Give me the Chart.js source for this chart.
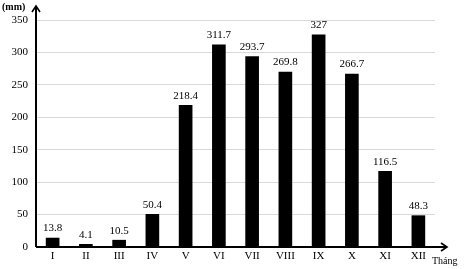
<!DOCTYPE html>
<html>
<head>
<meta charset="utf-8">
<script src="https://cdn.jsdelivr.net/npm/chart.js@4/dist/chart.umd.min.js"></script>
<style>
  html, body { margin: 0; padding: 0; background: #fff; }
  #wrap { width: 474px; height: 269px; }
</style>
</head>
<body>
<div id="wrap"><canvas id="chart" width="474" height="269"></canvas></div>
<script>
// Monthly rainfall (mm)
const months = ["I", "II", "III", "IV", "V", "VI", "VII", "VIII", "IX", "X", "XI", "XII"];
const rainfall = [13.8, 4.1, 10.5, 50.4, 218.4, 311.7, 293.7, 269.8, 327, 266.7, 116.5, 48.3];
const yTicks = [0, 50, 100, 150, 200, 250, 300, 350];

const FONT = "'Liberation Serif', 'Times New Roman', serif";

// arrows, axis titles and value labels
const extras = {
    id: "extras",
    afterDatasetsDraw(chart) {
        const ctx = chart.ctx;
        const area = chart.chartArea;
        const meta = chart.getDatasetMeta(0);

        ctx.save();
        ctx.fillStyle = "#000";
        ctx.font = "11px " + FONT;
        ctx.textAlign = "center";
        ctx.textBaseline = "bottom";
        meta.data.forEach((bar, i) => {
            ctx.fillText(String(rainfall[i]), bar.x, bar.y - 4);
        });

        // axes with arrows
        ctx.strokeStyle = "#000";
        ctx.lineWidth = 2;
        const x0 = area.left;
        const y0 = area.bottom;
        ctx.beginPath();
        ctx.moveTo(x0, y0);
        ctx.lineTo(x0, 7);
        ctx.moveTo(x0, y0);
        ctx.lineTo(446, y0);
        ctx.stroke();

        ctx.lineWidth = 1.6;
        ctx.beginPath();
        ctx.moveTo(x0 - 4, 12);
        ctx.lineTo(x0, 6);
        ctx.lineTo(x0 + 4, 12);
        ctx.moveTo(441, y0 - 4);
        ctx.lineTo(447, y0);
        ctx.lineTo(441, y0 + 4);
        ctx.stroke();

        ctx.font = "bold 10px " + FONT;
        ctx.textAlign = "left";
        ctx.textBaseline = "middle";
        ctx.fillText("(mm)", 2, 7);

        ctx.font = "10px " + FONT;
        ctx.fillText("Tháng", 432, 261);
        ctx.restore();
    }
};

new Chart(document.getElementById("chart"), {
    type: "bar",
    data: {
        labels: months,
        datasets: [{
            data: rainfall,
            backgroundColor: "#000",
            barThickness: 13
        }]
    },
    options: {
        responsive: false,
        animation: false,
        layout: { padding: { left: 0, right: 39, top: 20, bottom: 0 } },
        plugins: {
            legend: { display: false },
            tooltip: { enabled: false }
        },
        scales: {
            x: {
                grid: { display: false, drawTicks: false },
                border: { display: false },
                ticks: {
                    color: "#000",
                    font: { family: FONT, size: 11 },
                    padding: 3
                },
                afterFit(scale) { scale.height = 22; }
            },
            y: {
                min: 0,
                max: 350,
                afterBuildTicks(scale) {
                    scale.ticks = yTicks.map(v => ({ value: v }));
                },
                grid: {
                    color: "#d9d9d9",
                    drawTicks: false
                },
                border: { display: false },
                ticks: {
                    color: "#000",
                    font: { family: FONT, size: 11 },
                    padding: 8
                },
                afterFit(scale) { scale.width = 36; }
            }
        }
    },
    plugins: [extras]
});
</script>
</body>
</html>
